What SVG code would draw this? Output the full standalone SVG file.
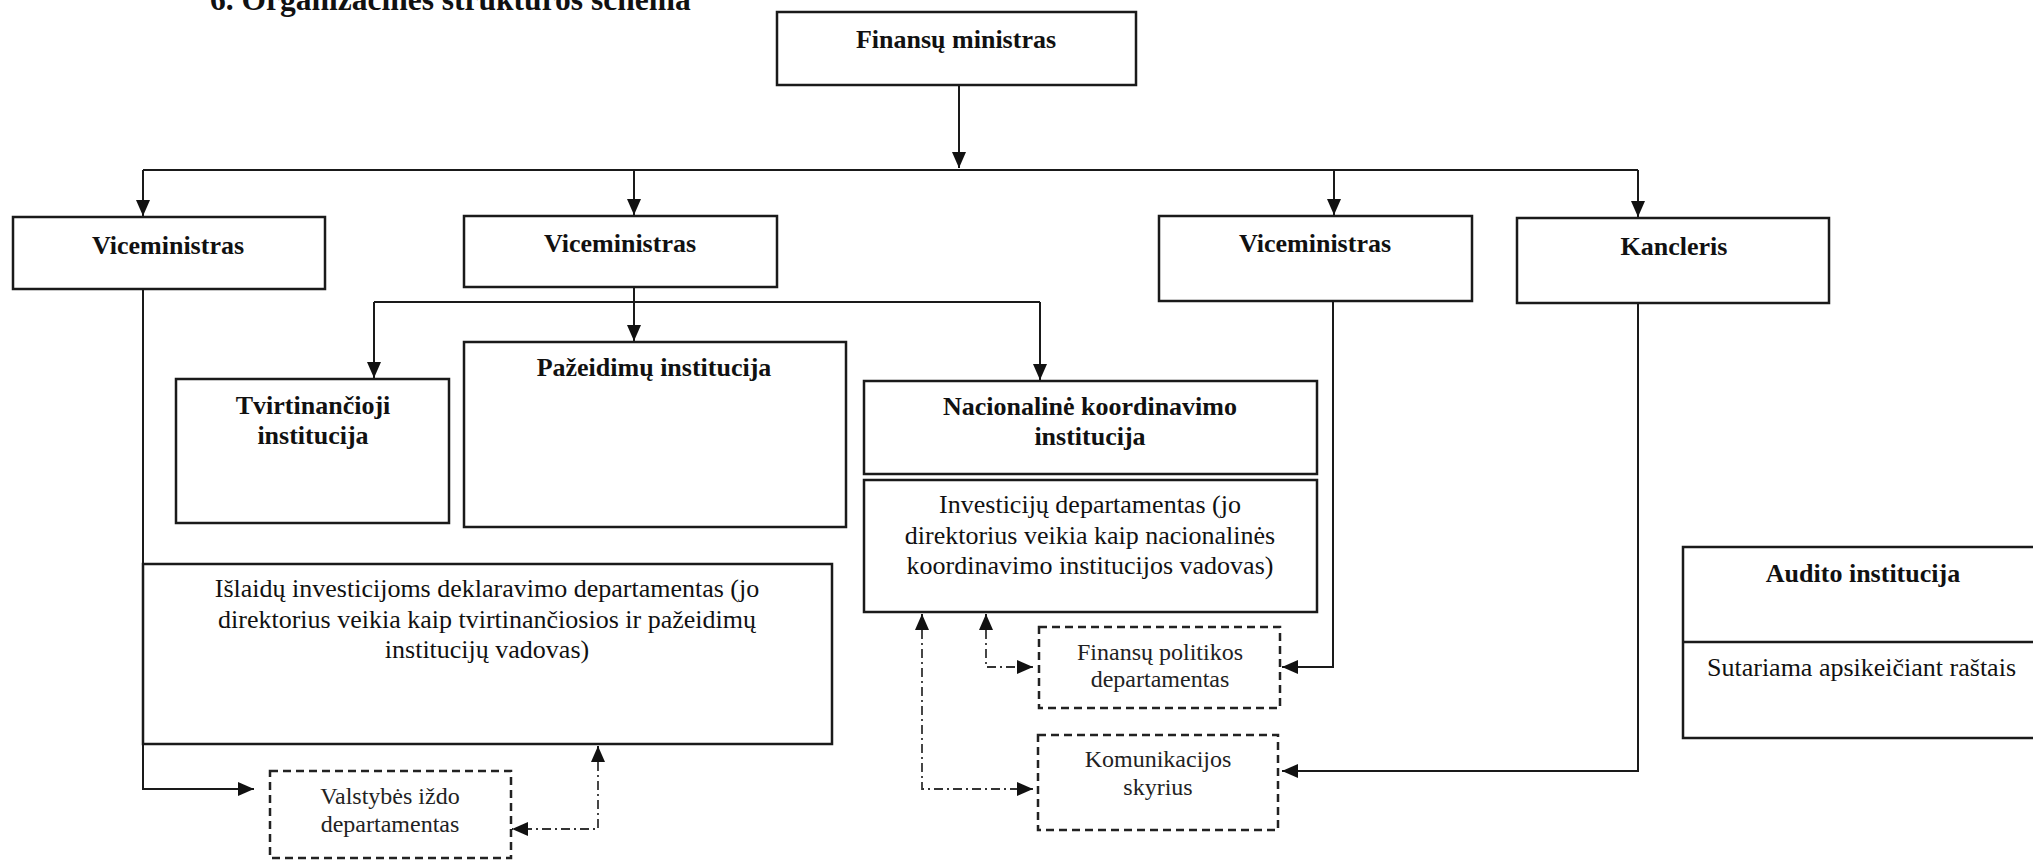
<svg xmlns="http://www.w3.org/2000/svg" width="2033" height="862" viewBox="0 0 2033 862">
<style>
.box{fill:#fff;stroke:#1a1a1a;stroke-width:2.5}
.dbox{fill:#fff;stroke:#222;stroke-width:2.5;stroke-dasharray:8 5}
.b{font-family:"Liberation Serif","Times New Roman",serif;font-weight:bold;font-size:26px;fill:#111;text-anchor:middle}
.r{font-family:"Liberation Serif","Times New Roman",serif;font-size:26px;fill:#111;text-anchor:middle}
.s{font-family:"Liberation Serif","Times New Roman",serif;font-size:24px;fill:#222;text-anchor:middle}
.c{fill:none;stroke:#1a1a1a;stroke-width:2}
.dd{fill:none;stroke:#333;stroke-width:1.8;stroke-dasharray:9 4 2 4}
</style>
<defs>
<marker id="ah" markerUnits="userSpaceOnUse" markerWidth="16" markerHeight="14" refX="16" refY="7" orient="auto">
<path d="M0,0 L16,7 L0,14 z" fill="#111"/>
</marker>
</defs>
<rect width="2033" height="862" fill="#fff"/>
<text x="210" y="10" font-family="Liberation Serif,Times New Roman,serif" font-weight="bold" font-size="31.5" fill="#111">6. Organizacinės struktūros schema</text>

<g id="connectors">
<path class="c" d="M959,85 V168" marker-end="url(#ah)"/>
<path class="c" d="M143,170 H1638"/>
<path class="c" d="M143,170 V216" marker-end="url(#ah)"/>
<path class="c" d="M634,170 V215" marker-end="url(#ah)"/>
<path class="c" d="M1334,170 V215" marker-end="url(#ah)"/>
<path class="c" d="M1638,170 V217" marker-end="url(#ah)"/>
<path class="c" d="M634,287 V302"/>
<path class="c" d="M374,302 H1040"/>
<path class="c" d="M374,302 V378" marker-end="url(#ah)"/>
<path class="c" d="M634,302 V341" marker-end="url(#ah)"/>
<path class="c" d="M1040,302 V380" marker-end="url(#ah)"/>
<path class="c" d="M143,289 V789 H254" marker-end="url(#ah)"/>
<path class="c" d="M1333,301 V667 H1282" marker-end="url(#ah)"/>
<path class="c" d="M1638,303 V771 H1282" marker-end="url(#ah)"/>
<path class="dd" d="M598,762 V829 H512" marker-end="url(#ah)"/>
<path class="c" d="M598,760 V746" marker-end="url(#ah)"/>
<path class="dd" d="M922,630 V789 H1033" marker-end="url(#ah)"/>
<path class="c" d="M922,628 V614" marker-end="url(#ah)"/>
<path class="dd" d="M986,630 V667 H1033" marker-end="url(#ah)"/>
<path class="c" d="M986,628 V614" marker-end="url(#ah)"/>
</g>

<g id="finansu-ministras">
<rect class="box" x="777" y="12" width="359" height="73"/>
<text class="b" x="956" y="48">Finansų ministras</text>
</g>
<g id="viceministras-1">
<rect class="box" x="13" y="217" width="312" height="72"/>
<text class="b" x="168" y="254">Viceministras</text>
</g>
<g id="viceministras-2">
<rect class="box" x="464" y="216" width="313" height="71"/>
<text class="b" x="620" y="252">Viceministras</text>
</g>
<g id="viceministras-3">
<rect class="box" x="1159" y="216" width="313" height="85"/>
<text class="b" x="1315" y="252">Viceministras</text>
</g>
<g id="kancleris">
<rect class="box" x="1517" y="218" width="312" height="85"/>
<text class="b" x="1674" y="255">Kancleris</text>
</g>
<g id="tvirtinancioji">
<rect class="box" x="176" y="379" width="273" height="144"/>
<text class="b" x="313" y="414">Tvirtinančioji</text>
<text class="b" x="313" y="444">institucija</text>
</g>
<g id="pazeidimu">
<rect class="box" x="464" y="342" width="382" height="185"/>
<text class="b" x="654" y="376">Pažeidimų institucija</text>
</g>
<g id="nacionaline">
<rect class="box" x="864" y="381" width="453" height="93"/>
<text class="b" x="1090" y="415">Nacionalinė koordinavimo</text>
<text class="b" x="1090" y="445">institucija</text>
</g>
<g id="investiciju">
<rect class="box" x="864" y="480" width="453" height="132"/>
<text class="r" x="1090" y="513">Investicijų departamentas (jo</text>
<text class="r" x="1090" y="544">direktorius veikia kaip nacionalinės</text>
<text class="r" x="1090" y="574">koordinavimo institucijos vadovas)</text>
</g>
<g id="islaidu">
<rect class="box" x="143" y="564" width="689" height="180"/>
<text class="r" x="487" y="597">Išlaidų investicijoms deklaravimo departamentas (jo</text>
<text class="r" x="487" y="628">direktorius veikia kaip tvirtinančiosios ir pažeidimų</text>
<text class="r" x="487" y="658">institucijų vadovas)</text>
</g>
<g id="valstybes-izdo">
<rect class="dbox" x="270" y="771" width="241" height="87"/>
<text class="s" x="390" y="804">Valstybės iždo</text>
<text class="s" x="390" y="832">departamentas</text>
</g>
<g id="finansu-politikos">
<rect class="dbox" x="1039" y="627" width="241" height="81"/>
<text class="s" x="1160" y="660">Finansų politikos</text>
<text class="s" x="1160" y="687">departamentas</text>
</g>
<g id="komunikacijos">
<rect class="dbox" x="1038" y="735" width="240" height="95"/>
<text class="s" x="1158" y="767">Komunikacijos</text>
<text class="s" x="1158" y="795">skyrius</text>
</g>
<g id="audito">
<rect class="box" x="1683" y="547" width="360" height="191"/>
<line class="box" x1="1683" y1="642" x2="2043" y2="642"/>
<text class="b" x="1863" y="582">Audito institucija</text>
<text class="r" x="1707" y="676" style="text-anchor:start">Sutariama apsikeičiant raštais</text>
</g>
</svg>
